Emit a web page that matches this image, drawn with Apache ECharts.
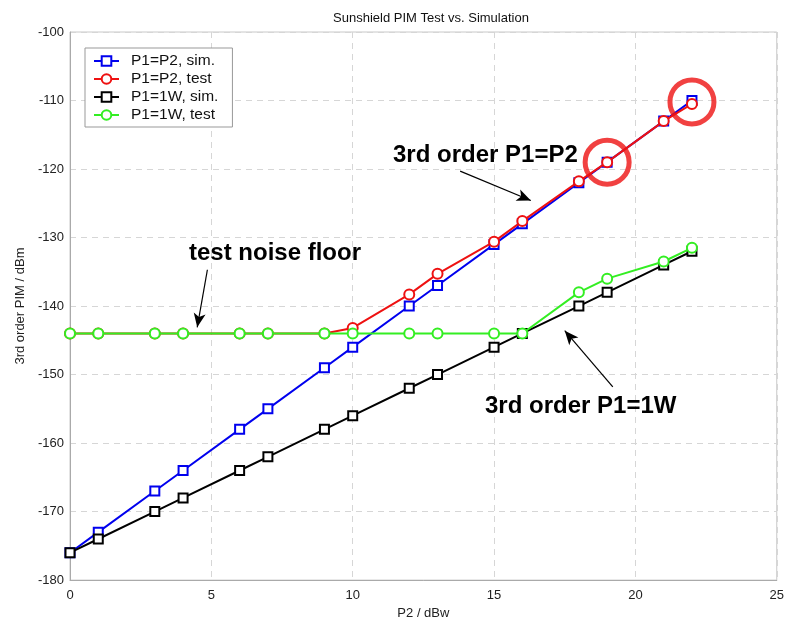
<!DOCTYPE html>
<html><head><meta charset="utf-8">
<script src="https://cdn.jsdelivr.net/npm/echarts@6/dist/echarts.min.js"></script>
<style>html,body{margin:0;padding:0;background:#fff}#c{width:787px;height:625px}</style>
</head><body><div id="c"></div>
<script>
const xs = [0,1,3,4,6,7,9,10,12,13,15,16,18,19,21,22];
const simP1P2 = [-176,-173,-167,-164,-158,-155,-149,-146,-140,-137,-131,-128,-122,-119,-113,-110];
const testP1P2 = [-144,-144,-144,-144,-144,-144,-144,-143.2,-138.3,-135.3,-130.6,-127.6,-121.8,-119,-113,-110.5];
const sim1W = [-176,-174,-170,-168,-164,-162,-158,-156,-152,-150,-146,-144,-140,-138,-134,-132];
const test1W = [-144,-144,-144,-144,-144,-144,-144,-144,-144,-144,-144,-144,-138,-136,-133.5,-131.5];
const highlightPts = [[19,-119],[22,-110.2]];
const seriesNames = ['P1=P2, sim.','P1=P2, test','P1=1W, sim.','P1=1W, test'];
const xTicks = {min:0,max:25,interval:5};
const yTicks = {min:-180,max:-100,interval:10};

const pair = (a) => xs.map((x,i)=>[x,a[i]]);
const font = 'Liberation Sans, Arial, sans-serif';
const chart = echarts.init(document.getElementById('c'));
function mkLine(name, data, color, symbol, z){
  return {name, type:'line', data, z, symbol, symbolSize: symbol==='rect'?9:10,
    showAllSymbol:true,
    lineStyle:{color, width:2}, itemStyle:{color:'#fff', borderColor:color, borderWidth:2},
    emphasis:{disabled:true}, animation:false};
}
chart.setOption({
  animation:false,
  title:{text:'Sunshield PIM Test vs. Simulation', left:426, top:7, textAlign:'center',
    textStyle:{fontFamily:font, fontSize:13, fontWeight:'normal', color:'#111'}},
  grid:{left:70, right:6, top:32, bottom:40, show:true, borderColor:'#c8c8c8', borderWidth:1},
  legend:{data:seriesNames, orient:'vertical', left:85, top:48, padding:[5,14,4,8],
    backgroundColor:'#fff', borderColor:'#999', borderWidth:1, itemGap:2, itemWidth:25, itemHeight:12,
    textStyle:{fontFamily:font, fontSize:15.5, color:'#111', padding:[0,0,0,7]}},
  xAxis:{type:'value', min:xTicks.min, max:xTicks.max, interval:xTicks.interval,
    name:'P2 / dBw', nameLocation:'middle', nameGap:25,
    nameTextStyle:{fontFamily:font, fontSize:13, color:'#222'},
    axisLine:{show:true, lineStyle:{color:'#aaa'}}, axisTick:{show:false},
    axisLabel:{fontFamily:font, fontSize:13, color:'#222', margin:9},
    splitLine:{show:true, lineStyle:{color:'#d6d6d6', type:[6,5]}}},
  yAxis:{type:'value', min:yTicks.min, max:yTicks.max, interval:yTicks.interval,
    name:'3rd order PIM / dBm', nameLocation:'middle', nameGap:40,
    nameTextStyle:{fontFamily:font, fontSize:13, color:'#222'},
    axisLine:{show:true, lineStyle:{color:'#aaa'}}, axisTick:{show:false},
    axisLabel:{fontFamily:font, fontSize:13, color:'#222', margin:6},
    splitLine:{show:true, lineStyle:{color:'#d6d6d6', type:[6,5]}}},
  series:[
    mkLine(seriesNames[0], pair(simP1P2), '#0000ee', 'rect', 3),
    mkLine(seriesNames[1], pair(testP1P2), '#ee1111', 'circle', 4),
    mkLine(seriesNames[2], pair(sim1W), '#000000', 'rect', 5),
    mkLine(seriesNames[3], pair(test1W), '#33ee22', 'circle', 6),
    {type:'scatter', data:highlightPts, symbol:'circle', symbolSize:44, z:7,
      itemStyle:{color:'rgba(0,0,0,0)', borderColor:'#ee1111', borderWidth:5}, silent:true},
    {type:'line', data:[], z:8, silent:true,
      markLine:{silent:true, symbol:['none','arrow'], symbolSize:[9,14], label:{show:false},
        lineStyle:{color:'#000', width:1.2, type:'solid'},
        data:[
          [{coord:[4.86,-134.7]},{coord:[4.5,-143.1]}],
          [{coord:[13.8,-120.3]},{coord:[16.3,-124.6]}],
          [{coord:[19.2,-151.8]},{coord:[17.5,-143.6]}]
        ]}}
  ],
  graphic:[
    {type:'text', z:100, left:189, top:241, style:{text:'test noise floor', font:'bold 24px '+font, fill:'#000'}},
    {type:'text', z:100, left:393, top:143, style:{text:'3rd order P1=P2', font:'bold 24px '+font, fill:'#000'}},
    {type:'text', z:100, left:485, top:394, style:{text:'3rd order P1=1W', font:'bold 24px '+font, fill:'#000'}}
  ]
});
</script></body></html>
